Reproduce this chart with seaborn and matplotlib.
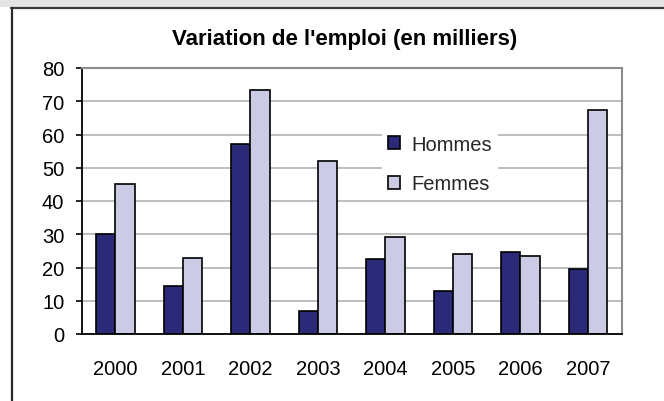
import numpy as np
import pandas as pd
import matplotlib
matplotlib.use("Agg")
import matplotlib.pyplot as plt
from matplotlib.patches import Rectangle
from matplotlib.lines import Line2D
import seaborn as sns

# ---- data ----
years = ["2000", "2001", "2002", "2003", "2004", "2005", "2006", "2007"]
hommes = [30, 14.5, 57, 7, 22.5, 13, 24.7, 19.5]
femmes = [45, 23, 73.3, 52, 29.3, 24, 23.4, 67.3]
series_names = ["Hommes", "Femmes"]
title = "Variation de l'emploi (en milliers)"
yticks = [0, 10, 20, 30, 40, 50, 60, 70, 80]

df = pd.DataFrame({
    "annee": years * 2,
    "valeur": hommes + femmes,
    "sexe": [series_names[0]] * len(years) + [series_names[1]] * len(years),
})

sns.set_style("white")
plt.rcParams["font.family"] = ["Liberation Sans", "DejaVu Sans"]

W, H = 664, 402
fig = plt.figure(figsize=(W / 100, H / 100), dpi=100)
fig.patch.set_facecolor("white")

left, right, top, bottom = 81.7, 621.7, 69, 335
ax = fig.add_axes([left / W, 1 - bottom / H, (right - left) / W, (bottom - top) / H])

navy = "#2B2A78"
lav = "#CBCBE6"
sns.barplot(data=df, x="annee", y="valeur", hue="sexe", order=years,
            hue_order=series_names, palette=[navy, lav], width=0.565, gap=0,
            saturation=1, edgecolor="black", linewidth=1.2, ax=ax)

ax.set_xlim(-0.5, len(years) - 0.5)
ax.set_ylim(0, 80)
ax.set_yticks(yticks)
ax.set_xlabel("")
ax.set_ylabel("")
ax.yaxis.grid(True, color="#BEBEBE", lw=1.4)
ax.xaxis.grid(False)
ax.set_axisbelow(True)

for s in ["left", "bottom"]:
    ax.spines[s].set_color("black")
    ax.spines[s].set_linewidth(1.3)
for s in ["top", "right"]:
    ax.spines[s].set_color("#8C8C8C")
    ax.spines[s].set_linewidth(1.5)

ax.set_xticks(np.arange(-0.5, len(years), 1), minor=True)
ax.tick_params(axis="x", which="major", length=0, pad=18, labelsize=14.5, colors="black")
ax.tick_params(axis="x", which="minor", length=4.5, width=1.2, direction="out", color="black")
ax.tick_params(axis="y", which="major", length=4.5, width=1.2, direction="out",
               pad=8, labelsize=14.5, colors="black")
ax.tick_params(left=True, bottom=True)

leg = ax.legend(loc="upper left", bbox_to_anchor=((381.7 - left) / (right - left), (bottom - 130) / (bottom - top)),
                frameon=True, fancybox=False, framealpha=1, facecolor="white", edgecolor="none",
                fontsize=14.5, handlelength=0.62, handleheight=0.62, handletextpad=0.55,
                labelspacing=1.0, borderpad=0.3, borderaxespad=0, title=None)

fig.text(344.5 / W, 1 - 40 / H, title, ha="center", va="center",
         fontsize=16, fontweight="bold", color="black")

# outer frame decorations
fig.add_artist(Rectangle((0, 1 - 7.5 / H), 1, 7.5 / H, transform=fig.transFigure,
                         facecolor="#E4E4E4", edgecolor="none"))
fig.add_artist(Line2D([11 / W, 1], [1 - 8.5 / H] * 2, transform=fig.transFigure,
                      color="#3A3A3A", lw=1.6))
fig.add_artist(Line2D([11.5 / W] * 2, [0, 1 - 8.5 / H], transform=fig.transFigure,
                      color="#2A2A2A", lw=1.6))

fig.savefig("out.png", dpi=100)
